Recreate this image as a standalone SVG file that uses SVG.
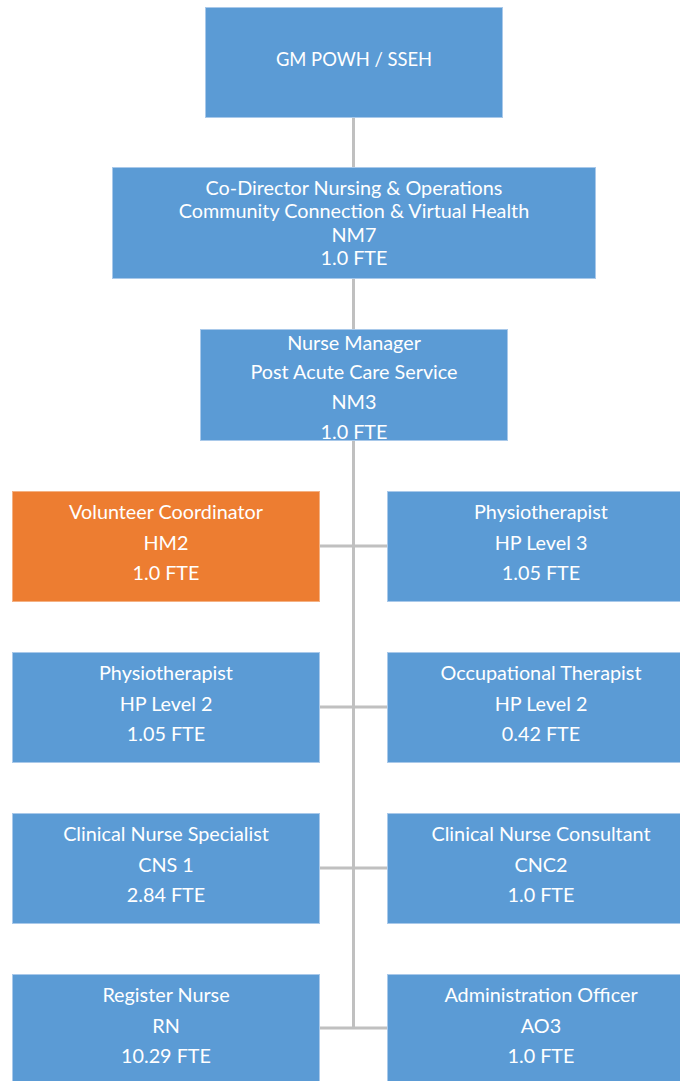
<svg xmlns="http://www.w3.org/2000/svg" width="680" height="1081" viewBox="0 0 680 1081">
<style>
.b{fill:#5B9BD5;stroke:#A9C9EA;stroke-width:1}
.o{fill:#ED7D31;stroke:#F4B183;stroke-width:1}
text{font-family:Lato,"Open Sans",sans-serif;font-size:19.8px;fill:#fff;text-anchor:middle}
.caps{font-size:18.4px}
.c{stroke:#C0C0C0;stroke-width:3;fill:none}
</style>
<rect width="680" height="1081" fill="#fff"/>
<g id="connectors">
<line class="c" x1="353.5" y1="117" x2="353.5" y2="167"/>
<line class="c" x1="353.5" y1="279" x2="353.5" y2="329"/>
<line class="c" x1="353.5" y1="440" x2="353.5" y2="1029"/>
<line class="c" x1="320" y1="546" x2="387" y2="546"/>
<line class="c" x1="320" y1="707" x2="387" y2="707"/>
<line class="c" x1="320" y1="868" x2="387" y2="868"/>
<line class="c" x1="320" y1="1028" x2="387" y2="1028"/>
</g>
<g id="gm"><rect class="b" x="205.5" y="7.5" width="297" height="110"/><text class="caps" x="354" y="66">GM POWH / SSEH</text></g>
<g id="codirector"><rect class="b" x="112.5" y="167.5" width="483" height="111"/>
<text x="354" y="194.5">Co-Director Nursing &amp; Operations</text>
<text x="354" y="218">Community Connection &amp; Virtual Health</text>
<text x="354" y="241.5">NM7</text>
<text x="354" y="265">1.0 FTE</text></g>
<g id="nursemanager"><rect class="b" x="200.5" y="329.5" width="307" height="111"/>
<text x="354" y="349.5">Nurse Manager</text>
<text x="354" y="379">Post Acute Care Service</text>
<text x="354" y="409">NM3</text>
<text x="354" y="439">1.0 FTE</text></g>
<g id="volunteer"><rect class="o" x="12.5" y="491.5" width="307" height="110"/>
<text x="166" y="519">Volunteer Coordinator</text><text x="166" y="549.5">HM2</text><text x="166" y="580">1.0 FTE</text></g>
<g id="physio3"><rect class="b" x="387.5" y="491.5" width="293" height="110"/>
<text x="541" y="519">Physiotherapist</text><text x="541" y="549.5">HP Level 3</text><text x="541" y="580">1.05 FTE</text></g>
<g id="physio2"><rect class="b" x="12.5" y="652.5" width="307" height="110"/>
<text x="166" y="680">Physiotherapist</text><text x="166" y="710.5">HP Level 2</text><text x="166" y="741">1.05 FTE</text></g>
<g id="ot"><rect class="b" x="387.5" y="652.5" width="293" height="110"/>
<text x="541" y="680">Occupational Therapist</text><text x="541" y="710.5">HP Level 2</text><text x="541" y="741">0.42 FTE</text></g>
<g id="cns"><rect class="b" x="12.5" y="813.5" width="307" height="110"/>
<text x="166" y="841">Clinical Nurse Specialist</text><text x="166" y="871.5">CNS 1</text><text x="166" y="902">2.84 FTE</text></g>
<g id="cnc"><rect class="b" x="387.5" y="813.5" width="293" height="110"/>
<text x="541" y="841">Clinical Nurse Consultant</text><text x="541" y="871.5">CNC2</text><text x="541" y="902">1.0 FTE</text></g>
<g id="rn"><rect class="b" x="12.5" y="974.5" width="307" height="110"/>
<text x="166" y="1002">Register Nurse</text><text x="166" y="1032.5">RN</text><text x="166" y="1063">10.29 FTE</text></g>
<g id="ao"><rect class="b" x="387.5" y="974.5" width="293" height="110"/>
<text x="541" y="1002">Administration Officer</text><text x="541" y="1032.5">AO3</text><text x="541" y="1063">1.0 FTE</text></g>
</svg>
